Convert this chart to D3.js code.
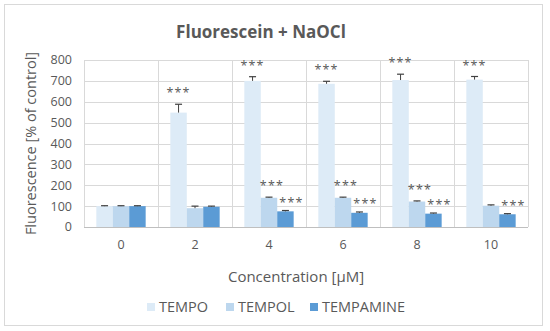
<!DOCTYPE html>
<meta charset="utf-8">
<script src="https://d3js.org/d3.v7.min.js"></script>
<style>
    body { margin: 0; background: #fff; }
    text { font-family: "Open Sans", "Noto Sans", sans-serif; fill: #595959; }
</style>
<div id="my_dataviz"></div>
<script>
    // values
    const concentrations = ["0", "2", "4", "6", "8", "10"];
    const seriesNames = ["TEMPO", "TEMPOL", "TEMPAMINE"];
    const tempo     = [100, 548, 700, 686, 704, 706];
    const tempol    = [100, 90, 140, 140, 122, 102];
    const tempamine = [100, 97, 75, 68, 64, 61];
    const tempoErr     = [2, 40, 20, 12, 28, 15];
    const tempolErr    = [2, 10, 3, 3, 3, 4];
    const tempamineErr = [2, 3, 4, 4, 3, 3];
    // which bars carry "***"
    const tempoStars     = [false, true, true, true, true, true];
    const tempolStars    = [false, false, true, true, true, false];
    const tempamineStars = [false, false, true, true, true, true];
    const yTicks = [0, 100, 200, 300, 400, 500, 600, 700, 800];

    const colors = {TEMPO: "#DDEBF7", TEMPOL: "#BDD7EE", TEMPAMINE: "#5B9BD5"};
    // label nudges (right, up) per series
    const starShift = {TEMPO: [0, 7], TEMPOL: [3, 7], TEMPAMINE: [6, 4]};

    const W = 550, H = 331;
    const margin = {top: 60, right: 22, bottom: 104, left: 84},
        width = W - margin.left - margin.right,
        height = H - margin.top - margin.bottom;

    const root = d3.select("#my_dataviz").append("svg")
        .attr("width", W).attr("height", H);

    // outer chart border
    root.append("rect")
        .attr("x", 4.5).attr("y", 4.5)
        .attr("width", 538).attr("height", 321)
        .attr("fill", "white").attr("stroke", "#D9D9D9");

    const svg = root.append("g")
        .attr("transform", `translate(${margin.left},${margin.top})`);

    const x = d3.scaleBand().domain(concentrations).range([0, width]).paddingInner(0).paddingOuter(0);
    const xSub = d3.scaleBand().domain(seriesNames)
        .range([0, x.bandwidth()]).paddingInner(0).paddingOuter(0.75);
    const y = d3.scaleLinear().domain([0, 800]).range([height, 0]);

    // horizontal gridlines
    svg.append("g").selectAll("line").data(yTicks).join("line")
        .attr("x1", 0).attr("x2", width)
        .attr("y1", d => Math.round(y(d)) + 0.5).attr("y2", d => Math.round(y(d)) + 0.5)
        .attr("stroke", d => d === 0 ? "#BFBFBF" : "#D9D9D9");

    // vertical category lines
    svg.append("g").selectAll("line").data(d3.range(concentrations.length + 1)).join("line")
        .attr("x1", i => Math.round(i * x.step()) + 0.5).attr("x2", i => Math.round(i * x.step()) + 0.5)
        .attr("y1", y(800)).attr("y2", y(0))
        .attr("stroke", "#D9D9D9");

    // y tick labels
    svg.append("g").selectAll("text").data(yTicks).join("text")
        .attr("x", -12).attr("y", d => y(d))
        .attr("dy", "0.35em")
        .attr("text-anchor", "end")
        .style("font-size", "12.5px")
        .text(d => d);

    // x tick labels
    svg.append("g").selectAll("text").data(concentrations).join("text")
        .attr("x", d => x(d) + x.bandwidth() / 2).attr("y", height + 18)
        .attr("dy", "0.35em")
        .attr("text-anchor", "middle")
        .style("font-size", "12.5px")
        .text(d => d);

    const table = concentrations.map((c, i) => ({
        conc: c,
        bars: [
            {key: "TEMPO", value: tempo[i], err: tempoErr[i], stars: tempoStars[i]},
            {key: "TEMPOL", value: tempol[i], err: tempolErr[i], stars: tempolStars[i]},
            {key: "TEMPAMINE", value: tempamine[i], err: tempamineErr[i], stars: tempamineStars[i]}
        ]
    }));

    const groups = svg.append("g").selectAll("g").data(table).join("g")
        .attr("transform", d => `translate(${x(d.conc)},0)`);

    const bar = groups.selectAll("g").data(d => d.bars).join("g");

    bar.append("rect")
        .attr("x", d => xSub(d.key))
        .attr("y", d => y(d.value))
        .attr("width", xSub.bandwidth())
        .attr("height", d => y(0) - y(d.value))
        .attr("fill", d => colors[d.key]);

    // error bars (upper only)
    bar.append("line")
        .attr("x1", d => xSub(d.key) + xSub.bandwidth() / 2)
        .attr("x2", d => xSub(d.key) + xSub.bandwidth() / 2)
        .attr("y1", d => y(d.value))
        .attr("y2", d => y(d.value + d.err))
        .attr("stroke", "#404040").attr("stroke-width", 1);
    bar.append("line")
        .attr("x1", d => xSub(d.key) + xSub.bandwidth() / 2 - 3.5)
        .attr("x2", d => xSub(d.key) + xSub.bandwidth() / 2 + 3.5)
        .attr("y1", d => y(d.value + d.err))
        .attr("y2", d => y(d.value + d.err))
        .attr("stroke", "#404040").attr("stroke-width", 1.2);

    // significance stars
    bar.filter(d => d.stars).append("text")
        .attr("x", d => xSub(d.key) + xSub.bandwidth() / 2 + starShift[d.key][0])
        .attr("y", d => y(d.value + d.err) - starShift[d.key][1])
        .attr("text-anchor", "middle")
        .style("font-size", "12.5px")
        .style("letter-spacing", "1.2px")
        .text("***");

    // title
    root.append("text")
        .attr("x", 261).attr("y", 38)
        .attr("text-anchor", "middle")
        .style("font-size", "17px")
        .style("font-weight", "bold")
        .text("Fluorescein + NaOCl");

    // axis titles
    root.append("text")
        .attr("transform", `translate(36,${margin.top + height / 2}) rotate(-90)`)
        .attr("text-anchor", "middle")
        .style("font-size", "14.5px")
        .text("Fluorescence [% of control]");

    root.append("text")
        .attr("x", 296).attr("y", 282)
        .attr("text-anchor", "middle")
        .style("font-size", "15px")
        .text("Concentration [µM]");

    // legend
    const legendX = [147, 226, 310];
    const legend = root.append("g").selectAll("g").data(seriesNames).join("g")
        .attr("transform", (d, i) => `translate(${legendX[i]},307)`);
    legend.append("rect")
        .attr("x", 0).attr("y", -4)
        .attr("width", 8).attr("height", 8)
        .attr("fill", d => colors[d]);
    legend.append("text")
        .attr("x", 12).attr("y", 0)
        .attr("dy", "0.35em")
        .style("font-size", "14.5px")
        .text(d => d);
</script>
